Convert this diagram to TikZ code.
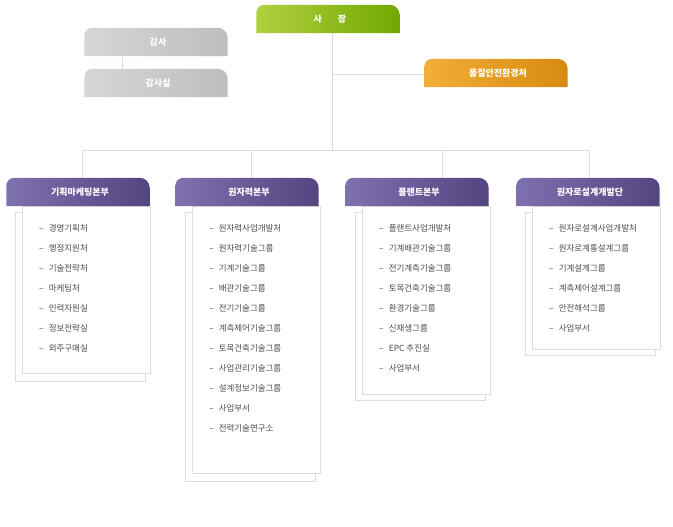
\documentclass[tikz,border=0pt]{standalone}
\usepackage{fontspec}
\setmainfont{Noto Sans CJK KR}
\usetikzlibrary{positioning}
\definecolor{purpleL}{HTML}{7F70B0}
\definecolor{purpleD}{HTML}{54447F}
\definecolor{greenL}{HTML}{B0D040}
\definecolor{greenD}{HTML}{72A800}
\definecolor{orangeL}{HTML}{F2AE38}
\definecolor{orangeD}{HTML}{D88A10}
\definecolor{grayL}{HTML}{D6D6D6}
\definecolor{grayD}{HTML}{BEBEBE}
\definecolor{lineC}{HTML}{DDDDDD}
\tikzset{
  tab/.style={minimum width=139pt, minimum height=28pt, inner sep=0pt,
    text=white, font=\bfseries\fontsize{9}{10}\selectfont},
  link/.style={draw=lineC, line width=0.8pt},
  panel/.style={draw=lineC, fill=white, line width=0.8pt},
  item/.style={anchor=west, inner sep=0pt, text=black!70,
    font=\fontsize{8.5}{10}\selectfont}
}
\newcommand{\tabshape}[3]{% node, left colour, right colour
  \shade[left color=#2, right color=#3]
    ([xshift=-4pt]#1.south west) [rounded corners=8pt] -- ([xshift=-4pt]#1.north west)
    [rounded corners=10pt] -- (#1.north east) [sharp corners] -- (#1.south east)
    [rounded corners=0pt] -- cycle;}
\begin{document}
\begin{tikzpicture}[x=1pt, y=-1pt]
  \useasboundingbox (0,0) rectangle (673,527);
  % connectors
  \coordinate (top) at (332,33);
  \coordinate (bar) at (332,150);
  \draw[link] (top) -- (bar);
  \draw[link] (82,150) -- (589,150);
  \draw[link] (332,74) -- (428,74);
  \draw[link] (122,56) -- (122,69);
  \foreach \x in {82,251,442,589} \draw[link] (\x,150) -- (\x,178);
  % panels
  \draw[panel] (15,212) rectangle (145,381);
  \draw[panel] (22,206) rectangle (150,373);
  \draw[panel] (185,212) rectangle (315,481);
  \draw[panel] (192,206) rectangle (320,473);
  \draw[panel] (355,212) rectangle (485,400);
  \draw[panel] (362,206) rectangle (490,394);
  \draw[panel] (525,212) rectangle (655,355);
  \draw[panel] (532,206) rectangle (660,349);
  % top boxes
  \node[tab] (ceo) at (330,19) {};
  \tabshape{ceo}{greenL}{greenD}
  \node[tab] at (ceo) {사\hspace{16pt}장};
  \node[tab] (audit) at (158,42) {};
  \tabshape{audit}{grayL}{grayD}
  \node[tab] at (audit) {감사};
  \node[tab] (auditoff) at (158,83) {};
  \tabshape{auditoff}{grayL}{grayD}
  \node[tab] at (auditoff) {감사실};
  \node[tab] (quality) at (498,73) {};
  \tabshape{quality}{orangeL}{orangeD}
  \node[tab] at (quality) {품질안전환경처};
  % division headers
  \foreach \n/\x/\t in {planning/80/기획마케팅본부, nuclear/249/원자력본부,
      plant/419/플랜트본부, reactor/590/원자로설계개발단} {
    \node[tab] (\n) at (\x,192) {};
    \tabshape{\n}{purpleL}{purpleD}
    \node[tab] at (\n) {\t};
  }
  % items
  \foreach \t [count=\i] in {경영기획처, 행정지원처, 기술전략처, 마케팅처,
      인력자원실, 정보전략실, 외주구매실}
    \node[item] at (39,208+20*\i) {–\hspace{5pt}\t};
  \foreach \t [count=\i] in {원자력사업개발처, 원자력기술그룹, 기계기술그룹,
      배관기술그룹, 전기기술그룹, 계측제어기술그룹, 토목건축기술그룹,
      사업관리기술그룹, 설계정보기술그룹, 사업부서, 전력기술연구소}
    \node[item] at (209,208+20*\i) {–\hspace{5pt}\t};
  \foreach \t [count=\i] in {플랜트사업개발처, 기계배관기술그룹, 전기계측기술그룹,
      토목건축기술그룹, 환경기술그룹, 신재생그룹, EPC 추진실, 사업부서}
    \node[item] at (379,208+20*\i) {–\hspace{5pt}\t};
  \foreach \t [count=\i] in {원자로설계사업개발처, 원자로계통설계그룹, 기계설계그룹,
      계측제어설계그룹, 안전해석그룹, 사업부서}
    \node[item] at (549,208+20*\i) {–\hspace{5pt}\t};
\end{tikzpicture}
\end{document}
